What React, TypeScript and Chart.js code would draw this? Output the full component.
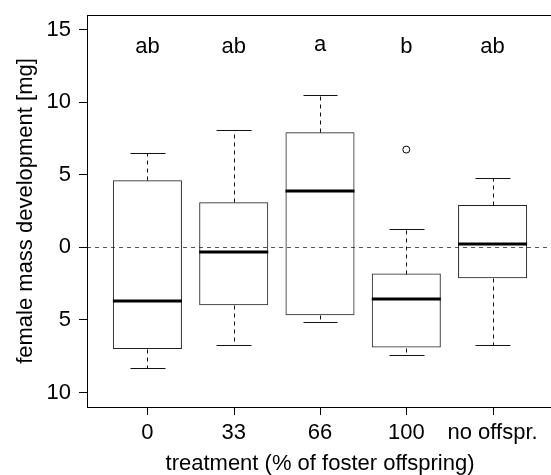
import React, { useEffect, useRef } from "react";
import { Chart, registerables } from "chart.js";

Chart.register(...registerables);

// ---- data ----
const categories = ["0", "33", "66", "100", "no offspr."];
const xPositions = [1, 2, 3, 4, 5];
const lowerWhisker = [-8.31, -6.7, -5.12, -7.41, -6.7];
const q1 = [-7.0, -3.99, -4.68, -6.91, -2.13];
const median = [-3.72, -0.32, 3.9, -3.56, 0.25];
const q3 = [4.61, 3.1, 7.92, -1.81, 2.92];
const upperWhisker = [6.5, 8.1, 10.52, 1.29, 4.8];
const outlierX = [4];
const outlierY = [6.73];
const groupLetters = ["ab", "ab", "a", "b", "ab"];
const letterY = 13.9;
const yTickValues = [-10, -5, 0, 5, 10, 15];
const yTickLabels = ["10", "5", "0", "5", "10", "15"];

const FONT = "'Liberation Sans', Arial, Helvetica, sans-serif";
const FS = 22;

const boxPlugin = {
  id: "boxExtras",
  beforeDatasetsDraw(chart: any) {
    const { ctx, chartArea, scales } = chart;
    const y0 = Math.round(scales.y.getPixelForValue(0)) + 0.5;
    ctx.save();
    ctx.strokeStyle = "#555";
    ctx.lineWidth = 1;
    ctx.setLineDash([4, 4]);
    ctx.beginPath();
    ctx.moveTo(chartArea.left, y0);
    ctx.lineTo(chartArea.right, y0);
    ctx.stroke();
    ctx.restore();
  },
  afterDatasetsDraw(chart: any) {
    const { ctx, scales } = chart;
    const xs = scales.x;
    const ys = scales.y;
    const px = (v: number) => Math.round(xs.getPixelForValue(v)) + 0.5;
    const py = (v: number) => Math.round(ys.getPixelForValue(v)) + 0.5;
    ctx.save();
    xPositions.forEach((x, i) => {
      const cx = px(x);
      ctx.strokeStyle = "#111";
      ctx.lineWidth = 1;
      ctx.setLineDash([4, 4]);
      ctx.beginPath();
      ctx.moveTo(cx, py(q3[i]));
      ctx.lineTo(cx, py(upperWhisker[i]));
      ctx.moveTo(cx, py(q1[i]));
      ctx.lineTo(cx, py(lowerWhisker[i]));
      ctx.stroke();
      ctx.setLineDash([]);
      ctx.beginPath();
      ctx.moveTo(px(x - 0.2), py(upperWhisker[i]));
      ctx.lineTo(px(x + 0.2), py(upperWhisker[i]));
      ctx.moveTo(px(x - 0.2), py(lowerWhisker[i]));
      ctx.lineTo(px(x + 0.2), py(lowerWhisker[i]));
      ctx.stroke();
      ctx.strokeStyle = "#000";
      ctx.lineWidth = 3;
      ctx.beginPath();
      const my = Math.round(ys.getPixelForValue(median[i]));
      ctx.moveTo(xs.getPixelForValue(x - 0.4), my);
      ctx.lineTo(xs.getPixelForValue(x + 0.4), my);
      ctx.stroke();
    });
    ctx.fillStyle = "#000";
    ctx.font = `${FS}px ${FONT}`;
    ctx.textAlign = "center";
    ctx.textBaseline = "alphabetic";
    xPositions.forEach((x, i) => {
      const t = groupLetters[i];
      const m = ctx.measureText(t);
      const cy = ys.getPixelForValue(letterY);
      const base = cy + (m.actualBoundingBoxAscent - m.actualBoundingBoxDescent) / 2;
      ctx.fillText(t, xs.getPixelForValue(x), base);
    });
    ctx.restore();
  },
  afterDraw(chart: any) {
    const { ctx, chartArea, scales } = chart;
    const xs = scales.x;
    ctx.save();
    ctx.setLineDash([]);
    ctx.strokeStyle = "#000";
    ctx.fillStyle = "#000";
    ctx.lineWidth = 1;
    const bottom = Math.round(chartArea.bottom);
    xPositions.forEach((x) => {
      const cx = Math.round(xs.getPixelForValue(x));
      ctx.fillRect(cx, bottom, 1, 8);
    });
    ctx.strokeRect(
      Math.round(chartArea.left) + 0.5,
      Math.round(chartArea.top) + 0.5,
      Math.round(chartArea.right - chartArea.left),
      Math.round(chartArea.bottom - chartArea.top)
    );
    ctx.restore();
  },
};

export default function App() {
  const ref = useRef<HTMLCanvasElement | null>(null);
  useEffect(() => {
    document.body.style.margin = "0";
    const canvas = ref.current!;
    const chart = new Chart(canvas, {
      type: "bar",
      data: {
        datasets: [
          {
            type: "bar",
            data: xPositions.map((x, i) => ({ x, y: [q1[i], q3[i]] })) as any,
            backgroundColor: "rgba(255,255,255,0)",
            borderColor: "#222",
            borderWidth: 1,
            borderSkipped: false,
            categoryPercentage: 1,
            barPercentage: 0.8,
          } as any,
          {
            type: "scatter",
            data: outlierX.map((x, i) => ({ x, y: outlierY[i] })),
            pointRadius: 3.5,
            pointBorderWidth: 1,
            borderColor: "#000",
            backgroundColor: "rgba(255,255,255,0)",
          } as any,
        ],
      },
      options: {
        responsive: false,
        animation: false,
        devicePixelRatio: 1,
        layout: { padding: { top: 15, right: 7, left: 0, bottom: 0 } },
        plugins: { legend: { display: false }, tooltip: { enabled: false } },
        scales: {
          x: {
            type: "linear",
            position: "bottom",
            offset: false,
            min: 0.3,
            max: 5.7,
            afterBuildTicks: (s: any) => {
              s.ticks = xPositions.map((v) => ({ value: v }));
            },
            afterFit: (s: any) => {
              s.height = 68;
              s.paddingLeft = 0;
              s.paddingRight = 0;
            },
            ticks: {
              autoSkip: false,
              maxRotation: 0,
              padding: 5,
              color: "#000",
              font: { size: FS, family: FONT },
              callback: (_v: any, i: number) => categories[i],
            },
            grid: { display: false },
            border: { display: false },
            title: {
              display: true,
              text: "treatment (% of foster offspring)",
              color: "#000",
              font: { size: FS, family: FONT, lineHeight: 1 },
              padding: { top: 0, bottom: 0 },
            },
          },
          y: {
            type: "linear",
            min: -11,
            max: 16,
            afterBuildTicks: (s: any) => {
              s.ticks = yTickValues.map((v) => ({ value: v }));
            },
            afterFit: (s: any) => {
              s.width = 87;
              s.paddingTop = 0;
              s.paddingBottom = 0;
            },
            ticks: {
              padding: 8,
              color: "#000",
              font: { size: FS, family: FONT },
              callback: (_v: any, i: number) => yTickLabels[i],
            },
            grid: {
              display: true,
              drawOnChartArea: false,
              drawTicks: true,
              tickLength: 8,
              tickColor: "#000",
              color: "#000",
            },
            border: { display: false },
            title: {
              display: true,
              text: "female mass development [mg]",
              color: "#000",
              font: { size: FS, family: FONT, lineHeight: 1 },
              padding: { top: 15, bottom: 0 },
            },
          },
        },
      },
      plugins: [boxPlugin],
    });
    return () => chart.destroy();
  }, []);
  return (
    <div style={{ width: 551, height: 475, overflow: "hidden", position: "relative" }}>
      <canvas ref={ref} width={560} height={475} style={{ display: "block" }} />
    </div>
  );
}
